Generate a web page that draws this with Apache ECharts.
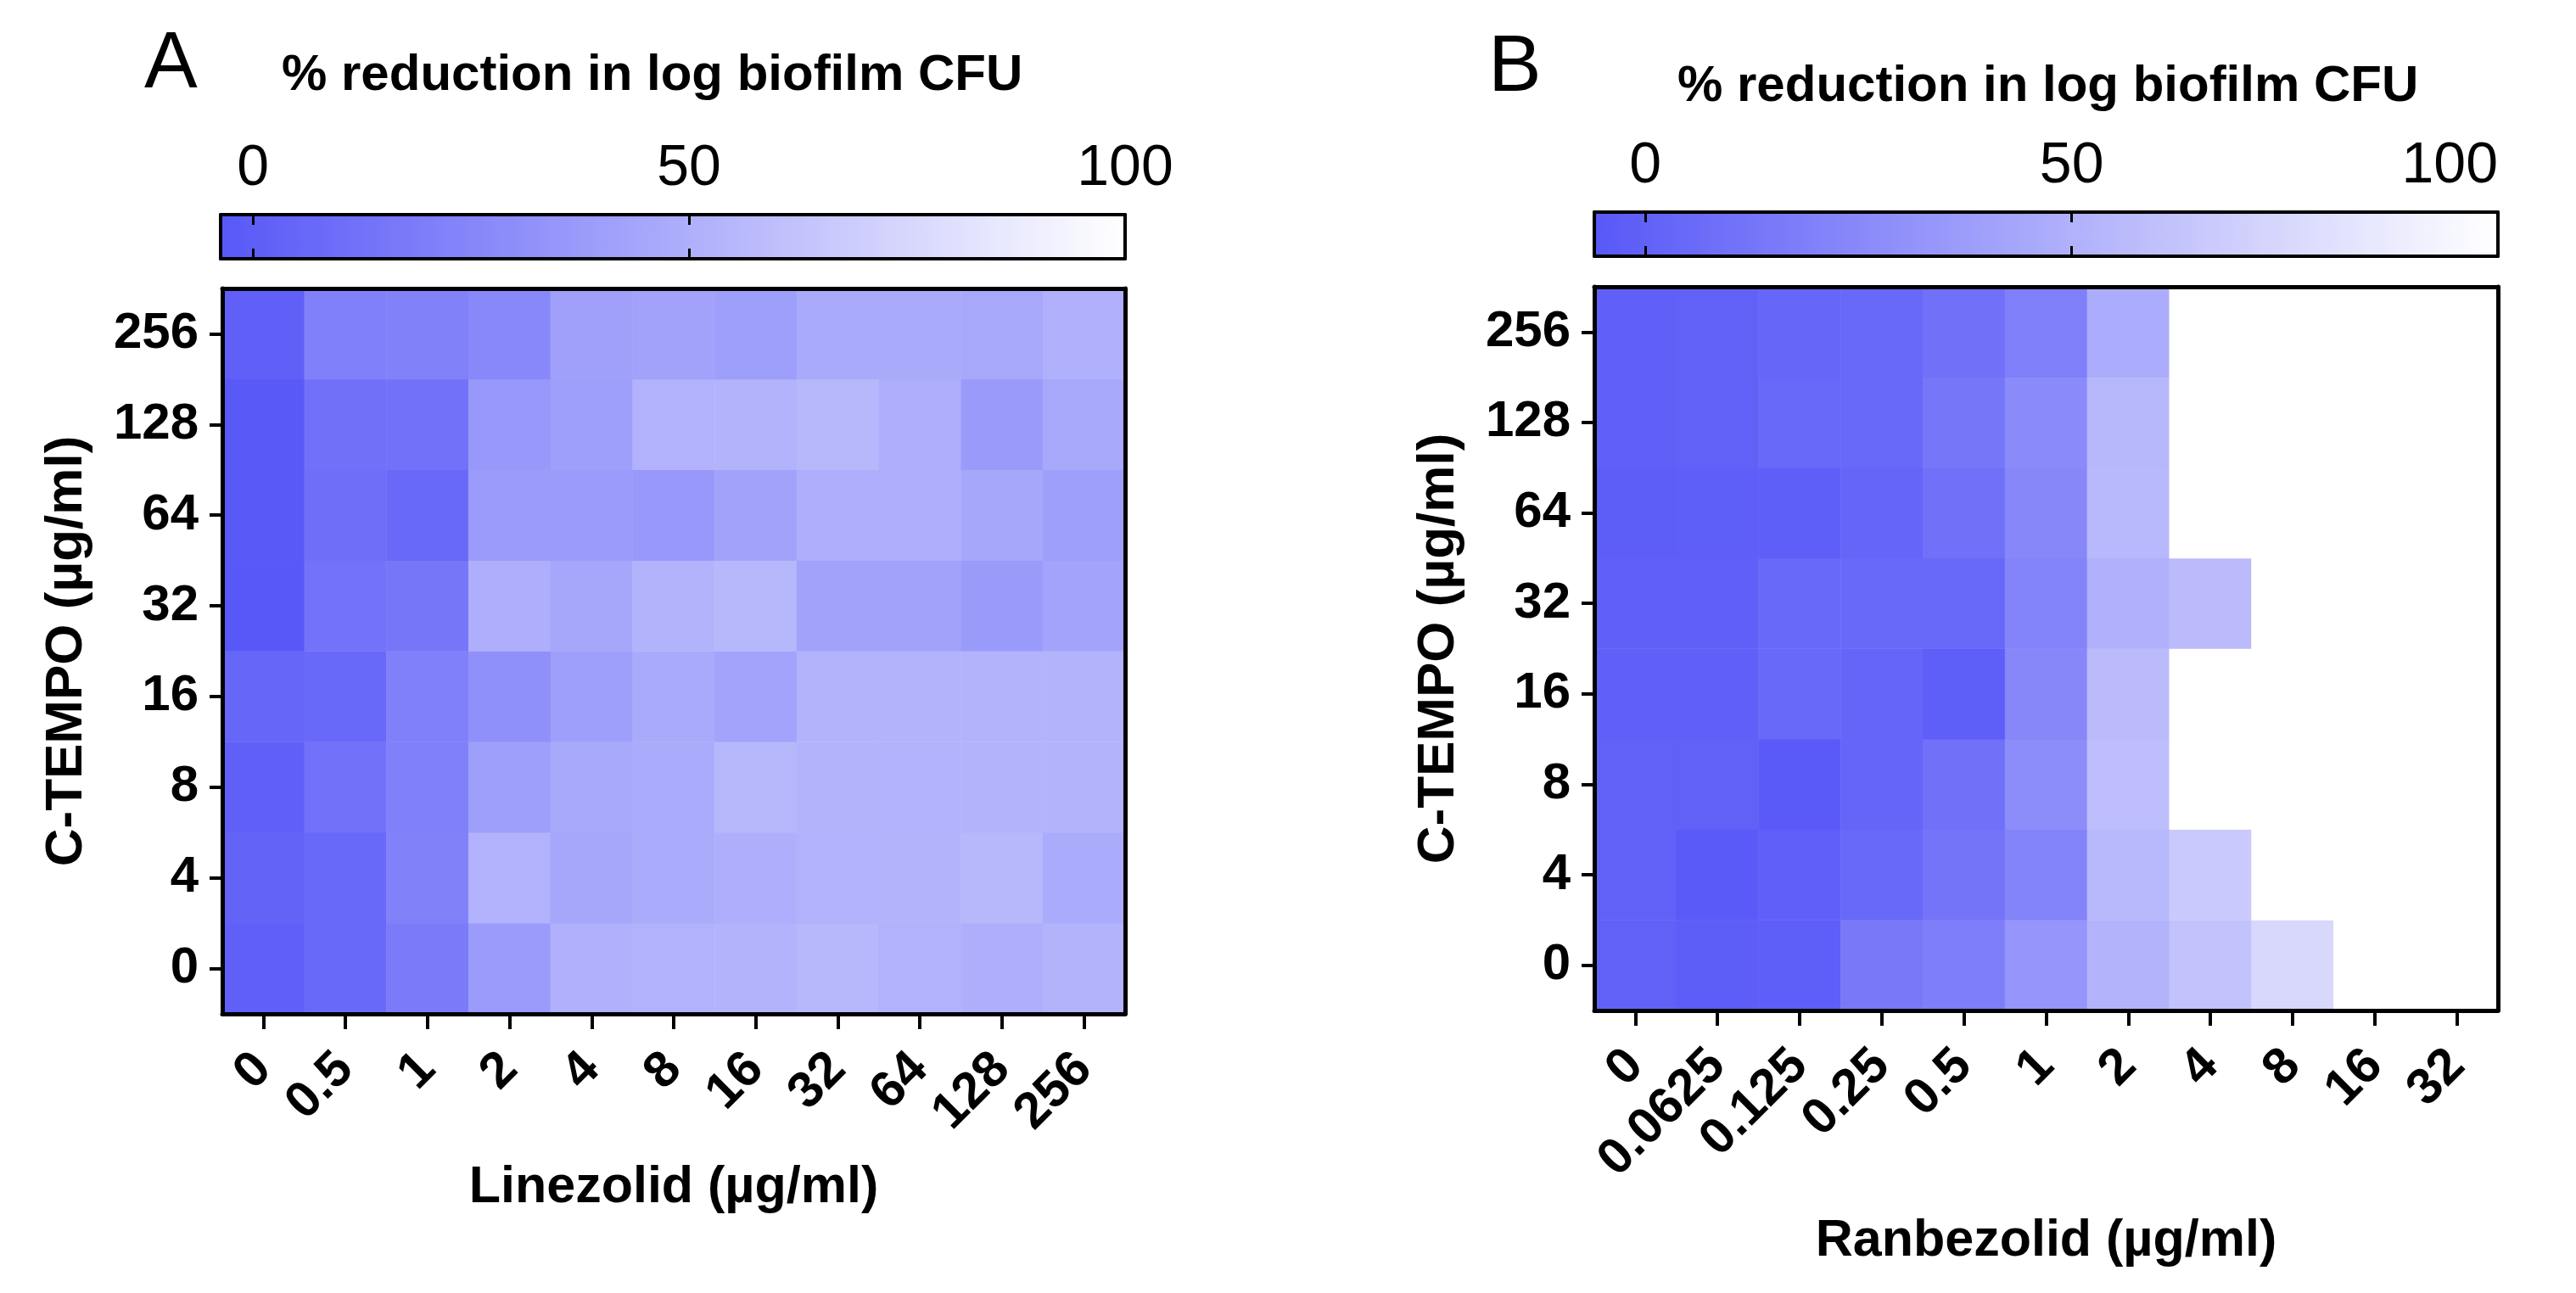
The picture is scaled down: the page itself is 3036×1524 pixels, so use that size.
<!DOCTYPE html>
<html>
<head>
<meta charset="utf-8">
<script src="https://cdn.jsdelivr.net/npm/echarts@6/dist/echarts.min.js"></script>
<style>
html,body{margin:0;padding:0;background:#fff;}
#chart{width:3036px;height:1524px;}
</style>
</head>
<body>
<div id="chart"></div>
<script>
// Categories
const linezolidDoses = ['0','0.5','1','2','4','8','16','32','64','128','256'];
const ranbezolidDoses = ['0','0.0625','0.125','0.25','0.5','1','2','4','8','16','32'];
const ctempoDoses = ['0','4','8','16','32','64','128','256'];
const colorbarTicks = [0, 50];
const colorbarLabels = [0, 50, 100];

// % reduction in log biofilm CFU; one row per C-TEMPO dose (0 .. 256), columns follow drug doses
const linezolidValues = [
  [1, 7, 18, 38, 51, 52, 53, 55, 52, 50, 53],
  [3, 7, 22, 52, 45, 48, 50, 52, 53, 55, 48],
  [1, 12, 21, 40, 46, 48, 55, 53, 52, 53, 53],
  [5, 7, 21, 31, 40, 47, 43, 53, 53, 53, 53],
  [-4, 13, 15, 50, 45, 53, 55, 42, 42, 37, 43],
  [-3, 10, 7, 38, 38, 36, 42, 50, 50, 45, 40],
  [-3, 11, 12, 36, 40, 52, 53, 55, 50, 37, 46],
  [1, 21, 22, 26, 41, 42, 40, 47, 47, 46, 51]
];
const ranbezolidValues = [
  [0, -3, -2, 14, 18, 33, 52, 61, 75, 100, 100],
  [0, -5, -1, 5, 12, 21, 55, 66, 100, 100, 100],
  [0, 0, -5, 2, 9, 27, 59, 100, 100, 100, 100],
  [-1, -1, 5, 2, -2, 24, 57, 100, 100, 100, 100],
  [-1, -1, 4, 5, 4, 21, 50, 57, 100, 100, 100],
  [-3, -2, -2, 2, 9, 24, 55, 100, 100, 100, 100],
  [-1, 0, 4, 4, 13, 26, 54, 100, 100, 100, 100],
  [-1, 0, 3, 4, 9, 19, 47, 100, 100, 100, 100]
];
const scaleMinA = -3.7, scaleMinB = -6, scaleMax = 100;

function toCells(rows) {
  const out = [];
  rows.forEach((row, yi) => row.forEach((v, xi) => out.push([xi, yi, v])));
  return out;
}

const FONT = 'Liberation Sans, Arial, Helvetica, sans-serif';
const BLACK = '#000';
const bold = {fontFamily: FONT, fontWeight: 'bold', color: BLACK, fontSize: 60};
const colors = ['#5858f8', '#ffffff'];

const grids = [
  {left: 262, top: 340, width: 1064, height: 855},
  {left: 1879, top: 338, width: 1065, height: 853},
  {left: 260, top: 253, width: 1066, height: 52},
  {left: 1879, top: 250, width: 1065, height: 52}
];

function heatX(gi, data, name, gap) {
  return [
    {gridIndex: gi, type: 'category', data: data, position: 'bottom', z: 10,
      axisLine: {show: true, onZero: false, lineStyle: {color: BLACK, width: 5}},
      axisTick: {show: true, alignWithLabel: true, length: 18, lineStyle: {color: BLACK, width: 4}},
      axisLabel: Object.assign({rotate: 45, interval: 0, margin: 56}, bold),
      splitLine: {show: false},
      name: name, nameLocation: 'middle', nameGap: gap, nameTextStyle: Object.assign({}, bold, {fontSize: 61})},
    {gridIndex: gi, type: 'category', data: data, position: 'top', z: 10,
      axisLine: {show: true, onZero: false, lineStyle: {color: BLACK, width: 5}},
      axisTick: {show: false}, axisLabel: {show: false}, splitLine: {show: false}}
  ];
}
function heatY(gi) {
  return [
    {gridIndex: gi, type: 'category', data: ctempoDoses, position: 'left', z: 10,
      axisLine: {show: true, onZero: false, lineStyle: {color: BLACK, width: 5}},
      axisTick: {show: true, alignWithLabel: true, length: 15, lineStyle: {color: BLACK, width: 4}},
      axisLabel: Object.assign({margin: 28, interval: 0}, bold),
      splitLine: {show: false},
      name: 'C-TEMPO (µg/ml)', nameLocation: 'middle', nameGap: 152, nameRotate: 90,
      nameTextStyle: Object.assign({}, bold, {fontSize: 62})},
    {gridIndex: gi, type: 'category', data: ctempoDoses, position: 'right', z: 10,
      axisLine: {show: true, onZero: false, lineStyle: {color: BLACK, width: 5}},
      axisTick: {show: false}, axisLabel: {show: false}, splitLine: {show: false}}
  ];
}
function barX(gi, min, alignMax) {
  return [
    {gridIndex: gi, type: 'value', min: min, max: scaleMax, position: 'top', z: 10,
      axisLine: {show: true, onZero: false, lineStyle: {color: BLACK, width: 4}},
      axisTick: {show: true, inside: true, length: 12, customValues: colorbarTicks, lineStyle: {color: BLACK, width: 3}},
      axisLabel: {show: true, customValues: colorbarLabels, margin: 20, fontFamily: FONT, fontSize: 68, color: BLACK,
        alignMaxLabel: alignMax},
      splitLine: {show: false}},
    {gridIndex: gi, type: 'value', min: min, max: scaleMax, position: 'bottom', z: 10,
      axisLine: {show: true, onZero: false, lineStyle: {color: BLACK, width: 4}},
      axisTick: {show: true, inside: true, length: 12, customValues: colorbarTicks, lineStyle: {color: BLACK, width: 3}},
      axisLabel: {show: false}, splitLine: {show: false}}
  ];
}
function barY(gi) {
  return ['left', 'right'].map(p => ({gridIndex: gi, type: 'value', min: 0, max: 1, position: p, z: 10,
    axisLine: {show: true, onZero: false, lineStyle: {color: BLACK, width: 4}},
    axisTick: {show: false}, axisLabel: {show: false}, splitLine: {show: false}}));
}

const option = {
  backgroundColor: '#ffffff',
  animation: false,
  title: [
    {text: 'A', left: 170, top: 30, padding: 0, textStyle: {fontFamily: FONT, fontWeight: 'normal', fontSize: 94, color: BLACK}},
    {text: '% reduction in log biofilm CFU', left: 332, top: 59, padding: 0, textStyle: Object.assign({}, bold)},
    {text: 'B', left: 1754, top: 34, padding: 0, textStyle: {fontFamily: FONT, fontWeight: 'normal', fontSize: 94, color: BLACK}},
    {text: '% reduction in log biofilm CFU', left: 1977, top: 72, padding: 0, textStyle: Object.assign({}, bold)}
  ],
  grid: grids,
  xAxis: [].concat(heatX(0, linezolidDoses, 'Linezolid (µg/ml)', 175), heatX(1, ranbezolidDoses, 'Ranbezolid (µg/ml)', 242),
    barX(2, scaleMinA, null), barX(3, scaleMinB, 'right')),
  yAxis: [].concat(heatY(0), heatY(1), barY(2), barY(3)),
  visualMap: [
    {type: 'continuous', seriesIndex: 0, min: scaleMinA, max: scaleMax, orient: 'horizontal',
      left: 260, top: 253, itemWidth: 52, itemHeight: 1066, padding: 0, calculable: false, hoverLink: false,
      inRange: {color: colors}},
    {type: 'continuous', seriesIndex: 1, min: scaleMinB, max: scaleMax, orient: 'horizontal',
      left: 1879, top: 250, itemWidth: 52, itemHeight: 1065, padding: 0, calculable: false, hoverLink: false,
      inRange: {color: colors}}
  ],
  series: [
    {type: 'heatmap', xAxisIndex: 0, yAxisIndex: 0, data: toCells(linezolidValues),
      emphasis: {disabled: true}, itemStyle: {borderWidth: 0}},
    {type: 'heatmap', xAxisIndex: 2, yAxisIndex: 2, data: toCells(ranbezolidValues),
      emphasis: {disabled: true}, itemStyle: {borderWidth: 0}}
  ]
};

const chart = echarts.init(document.getElementById('chart'), null, {renderer: 'canvas'});
chart.setOption(option);
</script>
</body>
</html>
